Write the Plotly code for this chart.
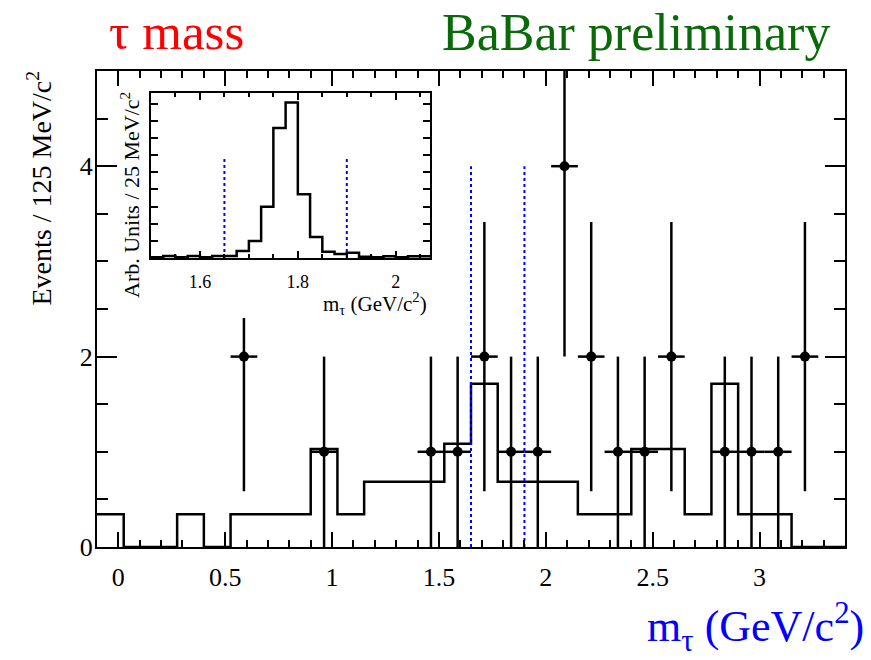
import numpy as np
import plotly.graph_objects as go

# ---------------- data ----------------
# main plot: 125 MeV/c^2 bins starting at -0.1 GeV/c^2
main_bin_start = -0.1
main_bin_width = 0.125
background = [0.343, 0, 0, 0.343, 0, 0.343, 0.343, 0.343, 1.03, 0.343,
              0.686, 0.686, 0.686, 1.085, 1.715, 0.686, 0.686, 0.686, 0.343, 0.343,
              1.03, 1.03, 0.343, 1.715, 0.343, 0.343, 0, 0]
observed = [0, 0, 0, 0, 0, 2, 0, 0, 1, 0,
            0, 0, 1, 1, 2, 1, 1, 4, 2, 1,
            1, 2, 0, 1, 1, 1, 2, 0]

# inset: 25 MeV/c^2 bins starting at 1.5 GeV/c^2 (arbitrary units)
inset_bin_start = 1.5
inset_bin_width = 0.025
signal_mc = [0.05, 0.12, 0.05, 0.12, 0.05, 0.12, 0.12, 0.41, 0.99, 2.99,
             7.58, 9.07, 3.72, 1.22, 0.37, 0.24, 0.30, 0.08, 0.05, 0.10,
             0.05, 0.10, 0.10]

# mass window cuts
cut_values = [1.65, 1.9]
main_cut_height = 4.0
inset_cut_height = 5.9

FONT = "Liberation Serif"

def edges(start, width, n):
    return start + width * np.arange(n + 1)

# ---------------- figure ----------------
fig = go.Figure()

# main background histogram
me = edges(main_bin_start, main_bin_width, len(background))
fig.add_trace(go.Scatter(
    x=me, y=list(background) + [background[-1]], mode="lines",
    line=dict(shape="hv", color="black", width=2.5),
    xaxis="x", yaxis="y", hoverinfo="skip", showlegend=False))

# cut lines in main plot
cx, cy = [], []
for c in cut_values:
    cx += [c, c, None]
    cy += [0, main_cut_height, None]
fig.add_trace(go.Scatter(
    x=cx, y=cy, mode="lines", line=dict(color="blue", width=2, dash="dot"),
    xaxis="x", yaxis="y", hoverinfo="skip", showlegend=False))

# data points
centers = me[:-1] + main_bin_width / 2
px = [float(c) for c, n in zip(centers, observed) if n > 0]
py = [n for n in observed if n > 0]
perr = [float(np.sqrt(n)) for n in py]
fig.add_trace(go.Scatter(
    x=px, y=py, mode="markers",
    marker=dict(color="black", size=10, symbol="circle"),
    error_y=dict(type="data", array=perr, color="black", thickness=2.5, width=0),
    error_x=dict(type="constant", value=main_bin_width / 2, color="black",
                 thickness=2.5, width=0),
    xaxis="x", yaxis="y", showlegend=False))

# white cover behind the inset (hides main-plot marks under inset + labels)
fig.add_trace(go.Scatter(
    x=[0], y=[0], mode="markers", marker=dict(opacity=0),
    xaxis="x2", yaxis="y2", hoverinfo="skip", showlegend=False))

# inset histogram
ie = edges(inset_bin_start, inset_bin_width, len(signal_mc))
fig.add_trace(go.Scatter(
    x=ie, y=list(signal_mc) + [signal_mc[-1]], mode="lines",
    line=dict(shape="hv", color="black", width=2.5),
    xaxis="x3", yaxis="y3", hoverinfo="skip", showlegend=False))
ix, iy = [], []
for c in cut_values:
    ix += [c, c, None]
    iy += [0, inset_cut_height, None]
fig.add_trace(go.Scatter(
    x=ix, y=iy, mode="lines", line=dict(color="blue", width=2, dash="dot"),
    xaxis="x3", yaxis="y3", hoverinfo="skip", showlegend=False))

# ---------------- layout ----------------
W, H = 871, 660
L, R, T, B = 97, 26, 71, 113
PW, PH = W - L - R, H - T - B

def px2x(p):
    return (p - L) / PW

def px2y(p):
    return (H - B - p) / PH

axis_common = dict(showline=True, linecolor="black", linewidth=2, mirror="allticks",
                   ticks="inside", tickcolor="black", showgrid=False, zeroline=False)

fig.update_layout(
    width=W, height=H,
    margin=dict(l=L, r=R, t=T, b=B),
    paper_bgcolor="white", plot_bgcolor="white",
    font=dict(family=FONT, color="black"),
    showlegend=False,
    xaxis=dict(range=[-0.1, 3.4], domain=[0, 1], tick0=0, dtick=0.5, ticklen=15,
               tickwidth=1.5, minor=dict(dtick=0.1, tick0=0, ticklen=7, ticks="inside",
                                         tickcolor="black", tickwidth=1.5),
               tickfont=dict(family=FONT, size=26), ticklabelstandoff=6,
               **axis_common),
    yaxis=dict(range=[0, 5], domain=[0, 1], tick0=0, dtick=2, ticklen=20, tickwidth=1.5,
               minor=dict(dtick=0.5, tick0=0, ticklen=11, ticks="inside",
                          tickcolor="black", tickwidth=1.5),
               tickfont=dict(family=FONT, size=26), ticklabelstandoff=-3,
               anchor="x", **axis_common),
    xaxis2=dict(domain=[px2x(118), px2x(440)], visible=False, anchor="y2", range=[0, 1]),
    yaxis2=dict(domain=[px2y(318), px2y(86)], visible=False, anchor="x2", range=[0, 1]),
    xaxis3=dict(domain=[px2x(151), px2x(430)], anchor="y3", range=[1.5, 2.07],
                tick0=1.6, dtick=0.2, ticklen=7, tickwidth=1.5,
                minor=dict(dtick=0.05, tick0=1.6, ticklen=4, ticks="inside",
                           tickcolor="black", tickwidth=1.5),
                tickfont=dict(family=FONT, size=18), ticklabelstandoff=6,
                **axis_common),
    yaxis3=dict(domain=[px2y(258), px2y(93)], anchor="x3", range=[0, 9.62],
                tick0=0, dtick=1, ticklen=7, tickwidth=1.5, showticklabels=False,
                **axis_common),
)

ann = [
    dict(text="τ mass", x=px2x(176), y=px2y(32), font=dict(size=51, color="#ff0000")),
    dict(text="BaBar preliminary", x=px2x(636), y=px2y(32),
         font=dict(size=52, color="#0a6a0a")),
    dict(text="m<sub>τ</sub> (GeV/c<sup>2</sup>)", x=px2x(866), y=px2y(627),
         xanchor="right", font=dict(size=44, color="blue")),
    dict(text="Events / 125 MeV/c<sup>2</sup>", x=px2x(40), y=px2y(69), yanchor="top",
         textangle=-90, font=dict(size=28, color="black")),
    dict(text="Arb. Units / 25 MeV/c<sup>2</sup>", x=px2x(130), y=px2y(90), yanchor="top",
         textangle=-90, font=dict(size=22, color="black")),
    dict(text="m<sub>τ</sub> (GeV/c<sup>2</sup>)", x=px2x(429), y=px2y(303),
         xanchor="right", font=dict(size=21, color="black")),
]
for a in ann:
    a.setdefault("xanchor", "center")
    a.setdefault("yanchor", "middle")
    fig.add_annotation(xref="paper", yref="paper", showarrow=False,
                       font_family=FONT, **{k: v for k, v in a.items()})

fig.write_html("out.html", config={"displayModeBar": False},
               post_script="document.body.style.margin='0px';document.body.style.overflow='hidden';")
